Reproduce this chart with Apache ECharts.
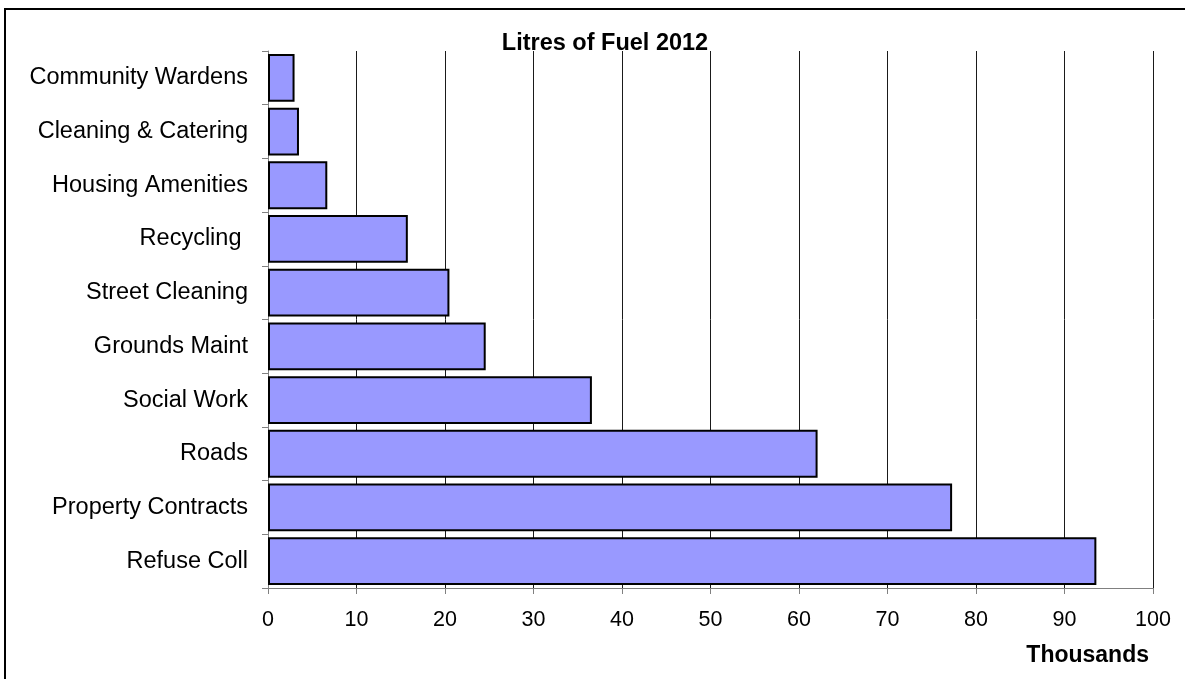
<!DOCTYPE html>
<html>
<head>
<meta charset="utf-8">
<script src="https://cdn.jsdelivr.net/npm/echarts@6/dist/echarts.min.js"></script>
<style>
  html, body { margin: 0; padding: 0; background: #fff; }
  #chart { width: 1185px; height: 679px; }
</style>
</head>
<body>
<div id="chart"></div>
<script>
// Departments, listed top to bottom
const categories = [
  'Community Wardens',
  'Cleaning & Catering',
  'Housing Amenities',
  'Recycling ',
  'Street Cleaning',
  'Grounds Maint',
  'Social Work',
  'Roads',
  'Property Contracts',
  'Refuse Coll'
];
// Litres of fuel, in thousands
const litres = [3.0, 3.5, 6.7, 15.8, 20.5, 24.6, 36.6, 62.1, 77.3, 93.6];
const xTicks = [0, 10, 20, 30, 40, 50, 60, 70, 80, 90, 100];

const font = 'Arial, "Liberation Sans", sans-serif';
const chart = echarts.init(document.getElementById('chart'), null, { renderer: 'canvas' });

chart.setOption({
  animation: false,
  backgroundColor: '#fff',
  title: {
    text: 'Litres of Fuel 2012',
    left: 600,
    textAlign: 'center',
    top: 27,
    textStyle: { fontFamily: font, fontSize: 23.5, fontWeight: 'bold', color: '#000' }
  },
  grid: { left: 268, right: 32, top: 51, bottom: 91, containLabel: false },
  xAxis: {
    type: 'value',
    min: xTicks[0],
    max: xTicks[xTicks.length - 1],
    interval: xTicks[1] - xTicks[0],
    axisLine: { show: true, lineStyle: { color: '#808080', width: 1 } },
    axisTick: { show: true, length: 6, lineStyle: { color: '#808080' } },
    axisLabel: { margin: 21, fontFamily: font, fontSize: 21.5, color: '#000' },
    splitLine: { show: true, lineStyle: { color: '#1a1a1a', width: 1 } }
  },
  yAxis: {
    type: 'category',
    data: categories,
    inverse: true,
    axisLine: { show: true, lineStyle: { color: '#808080', width: 1 } },
    axisTick: { show: true, length: 6, lineStyle: { color: '#808080' } },
    axisLabel: { margin: 20, fontFamily: font, fontSize: 23.5, color: '#000' },
    splitLine: { show: false }
  },
  series: [{
    type: 'bar',
    data: litres,
    barCategoryGap: '11%',
    itemStyle: { color: '#9999ff', borderColor: '#000', borderWidth: 2 }
  }],
  graphic: [
    {
      type: 'rect',
      shape: { x: 5, y: 9, width: 1300, height: 800 },
      style: { fill: 'none', stroke: '#000', lineWidth: 2 },
      silent: true
    },
    {
      type: 'text',
      right: 1185 - 1149,
      top: 644,
      style: { text: 'Thousands', font: 'bold 23px ' + font, fill: '#000' }
    }
  ]
});
</script>
</body>
</html>
